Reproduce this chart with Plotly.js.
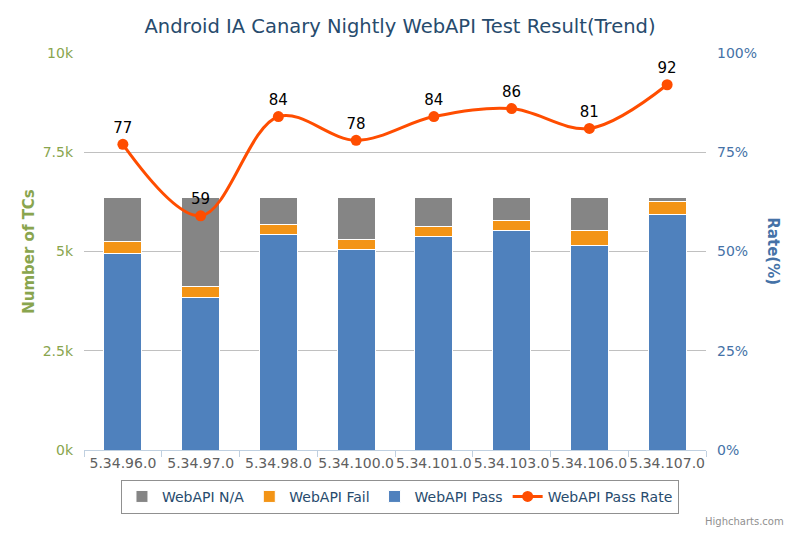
<!DOCTYPE html>
<html>
<head>
<meta charset="utf-8">
<script src="https://cdn.plot.ly/plotly-3.0.1.min.js"></script>
<style>html,body{margin:0;padding:0;background:#fff;}#chart{width:800px;height:533px;}</style>
</head>
<body>
<div id="chart"></div>
<script>
var categories = ["5.34.96.0", "5.34.97.0", "5.34.98.0", "5.34.100.0", "5.34.101.0", "5.34.103.0", "5.34.106.0", "5.34.107.0"];
var passCounts = [4960, 3830, 5440, 5040, 5370, 5520, 5160, 5920];
var failCounts = [300, 300, 250, 270, 270, 250, 360, 330];
var naCounts   = [1110, 2240, 680, 1060, 730, 600, 850, 120];
var passRate   = [77, 59, 84, 78, 84, 86, 81, 92];
var leftTickVals = [0, 2500, 5000, 7500, 10000];
var leftTickText = ["0k", "2.5k", "5k", "7.5k", "10k"];
var rightTickVals = [0, 25, 50, 75, 100];
var rightTickText = ["0%", "25%", "50%", "75%", "100%"];

var FONT = "DejaVu Sans, Verdana, sans-serif";

var traces = [
  {type: "bar", name: "WebAPI Pass", x: categories, y: passCounts, legendrank: 3,
   marker: {color: "#4f81bd", line: {color: "#ffffff", width: 1}}, hoverinfo: "y+name"},
  {type: "bar", name: "WebAPI Fail", x: categories, y: failCounts, legendrank: 2,
   marker: {color: "#f39416", line: {color: "#ffffff", width: 1}}, hoverinfo: "y+name"},
  {type: "bar", name: "WebAPI N/A", x: categories, y: naCounts, legendrank: 1,
   marker: {color: "#858585", line: {color: "#ffffff", width: 1}}, hoverinfo: "y+name"},
  {type: "scatter", mode: "lines+markers+text", name: "WebAPI Pass Rate", x: categories, y: passRate,
   yaxis: "y2", legendrank: 4,
   line: {color: "#ff4d00", width: 3, shape: "spline", smoothing: 1},
   marker: {color: "#ff4d00", size: 11},
   text: passRate.map(String), textposition: "top center",
   textfont: {family: FONT, size: 15, color: "#000000"}, cliponaxis: false}
];

var layout = {
  width: 800, height: 533,
  margin: {l: 84, r: 94, t: 53, b: 83},
  paper_bgcolor: "#ffffff", plot_bgcolor: "#ffffff",
  font: {family: FONT},
  barmode: "stack", bargap: 0.51,
  showlegend: true,
  title: {text: "Android IA Canary Nightly WebAPI Test Result(Trend)",
          font: {family: FONT, size: 19.5, color: "#274b6d"}, x: 0.5, xanchor: "center", y: 0.951, yanchor: "middle"},
  xaxis: {type: "category", tickangle: 0, tickson: "boundaries", ticks: "outside", ticklen: 6,
          tickcolor: "#c0d0e0", showline: true, linecolor: "#c0d0e0", linewidth: 1,
          tickfont: {family: FONT, size: 14, color: "#606060"}, showgrid: false, fixedrange: true},
  yaxis: {range: [0, 10000], tickvals: leftTickVals, ticktext: leftTickText,
          tickfont: {family: FONT, size: 14, color: "#89a54e"}, gridcolor: "#c0c0c0", gridwidth: 1,
          zeroline: false, ticklabelstandoff: 10,
          title: {text: "<b>Number of TCs</b>", font: {family: FONT, size: 15, color: "#89a54e"}, standoff: 4}},
  yaxis2: {range: [0, 100], overlaying: "y", side: "right", tickvals: rightTickVals, ticktext: rightTickText,
           tickfont: {family: FONT, size: 14, color: "#4572a7"}, showgrid: false, zeroline: false,
           ticklabelstandoff: 10},
  legend: {orientation: "h", x: 0.508, xanchor: "center", y: -0.118, yanchor: "middle",
           bordercolor: "#909090", borderwidth: 1, bgcolor: "#ffffff",
           font: {family: FONT, size: 14, color: "#274b6d"}, itemwidth: 20, traceorder: "normal"},
  annotations: [
    {text: "<b>Rate(%)</b>", xref: "paper", yref: "paper", x: 1.108, y: 0.5, showarrow: false,
     textangle: 90, font: {family: FONT, size: 15, color: "#4572a7"}, xanchor: "center", yanchor: "middle"},
    {text: "Highcharts.com", xref: "paper", yref: "paper", x: 1.129, y: -0.18, showarrow: false,
     xanchor: "right", yanchor: "middle", font: {family: FONT, size: 10, color: "#909090"}}
  ]
};

Plotly.newPlot("chart", traces, layout, {displayModeBar: false, staticPlot: true});
</script>
</body>
</html>
